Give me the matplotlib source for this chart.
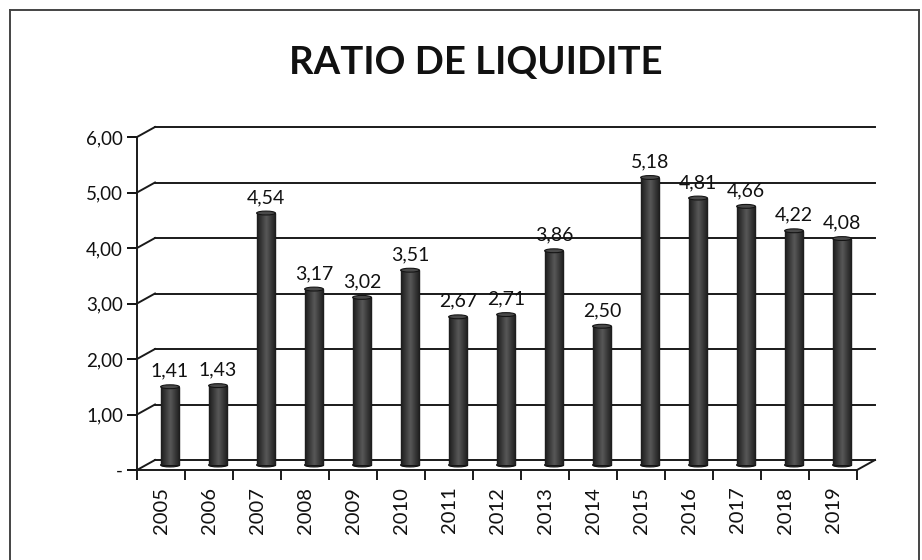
import matplotlib
matplotlib.use("Agg")
import matplotlib.pyplot as plt
import numpy as np
from matplotlib.lines import Line2D
from matplotlib.patches import Ellipse
from matplotlib.colors import LinearSegmentedColormap

years = ["2005", "2006", "2007", "2008", "2009", "2010", "2011", "2012",
         "2013", "2014", "2015", "2016", "2017", "2018", "2019"]
ratios = [1.41, 1.43, 4.54, 3.17, 3.02, 3.51, 2.67, 2.71,
          3.86, 2.50, 5.18, 4.81, 4.66, 4.22, 4.08]
y_ticks = [0, 1, 2, 3, 4, 5, 6]
title = "RATIO DE LIQUIDITE"

plt.rcParams['font.family'] = ['Lato', 'DejaVu Sans']

W, H = 922, 560
fig = plt.figure(figsize=(W / 100, H / 100), dpi=100)
fig.patch.set_facecolor('white')

# outer chart border
for xs, ys in [([10, 10], [10, H]), ([10, W - 3], [10, 10]), ([W - 3, W - 3], [10, H])]:
    fig.add_artist(Line2D([x / W for x in xs], [1 - y / H for y in ys],
                          color='#444444', lw=1.4))

fig.text(476 / W, 1 - 63 / H, title, ha='center', va='center',
         fontsize=27.5, fontweight='bold', color='#111111')

left_px, right_px, top_px, bot_px = 137, 857, 137, 470
ax = fig.add_axes([left_px / W, 1 - bot_px / H, (right_px - left_px) / W,
                   (bot_px - top_px) / H])
ax.set_facecolor('none')

n = len(years)
x = np.arange(n)
DX = 18 / 48.0          # depth offset in data units (x)
DY = 10 / 55.5          # depth offset in data units (y)
x0, x1 = -0.5, n - 0.5

lc = '#1a1a1a'
# back wall gridlines and left diagonals
for v in y_ticks:
    ax.plot([x0 + DX, x1 + DX], [v + DY, v + DY], color=lc, lw=1.4,
            clip_on=False, zorder=1)
    ax.plot([x0, x0 + DX], [v, v + DY], color=lc, lw=1.4,
            clip_on=False, zorder=1)
# right floor diagonal
ax.plot([x1, x1 + DX], [0, DY], color=lc, lw=1.4, clip_on=False, zorder=1)

# cylinders
cyl = LinearSegmentedColormap.from_list('cyl', ['#585858', '#3a3a3a', '#1c1c1c'])
bw = 0.39
grad = np.abs(np.linspace(-1, 1, 64))[None, :]
for xi, v in zip(x, ratios):
    cx = xi + DX / 2
    bars = ax.bar(cx, v, bottom=DY / 2, width=bw, color='#3a3a3a',
                  edgecolor='#151515', lw=1.0, zorder=3)
    im = ax.imshow(grad, extent=[cx - bw / 2, cx + bw / 2, DY / 2, v + DY / 2],
                   cmap=cyl, vmin=0, vmax=1, aspect='auto', zorder=3.5,
                   interpolation='bilinear')
    im.set_clip_path(bars[0])
    ax.add_patch(Ellipse((cx, v + DY / 2), bw, 0.07, facecolor='#4a4a4a',
                         edgecolor='#151515', lw=0.8, zorder=4))
    ax.add_patch(Ellipse((cx, DY / 2), bw, 0.07, facecolor='#3a3a3a',
                         edgecolor='#151515', lw=0.8, zorder=2.9))
    ax.annotate(f"{v:.2f}".replace('.', ','), (cx, v + DY / 2),
                xytext=(0, 5), textcoords='offset points', ha='center',
                va='bottom', fontsize=14, color='#111111', zorder=5)

ax.set_xlim(x0, x1)
ax.set_ylim(0, 6)

for s in ['top', 'right']:
    ax.spines[s].set_visible(False)
for s in ['left', 'bottom']:
    ax.spines[s].set_color(lc)
    ax.spines[s].set_linewidth(1.4)

ax.set_yticks(y_ticks)
ax.set_yticklabels(['-' if v == 0 else f"{v:.2f}".replace('.', ',') for v in y_ticks])
ax.tick_params(axis='y', direction='out', length=7, width=1.4, pad=3,
               labelsize=13.5, colors='#111111')

ax.set_xticks(np.arange(n + 1) - 0.5)
ax.set_xticklabels([])
ax.tick_params(axis='x', which='major', direction='out', length=7, width=1.4,
               color=lc)
ax.set_xticks(x, minor=True)
ax.set_xticklabels(years, minor=True, rotation=90, fontsize=14.5, color='#111111')
ax.tick_params(axis='x', which='minor', length=0, pad=12)

fig.savefig('out.png', dpi=100, facecolor='white')
